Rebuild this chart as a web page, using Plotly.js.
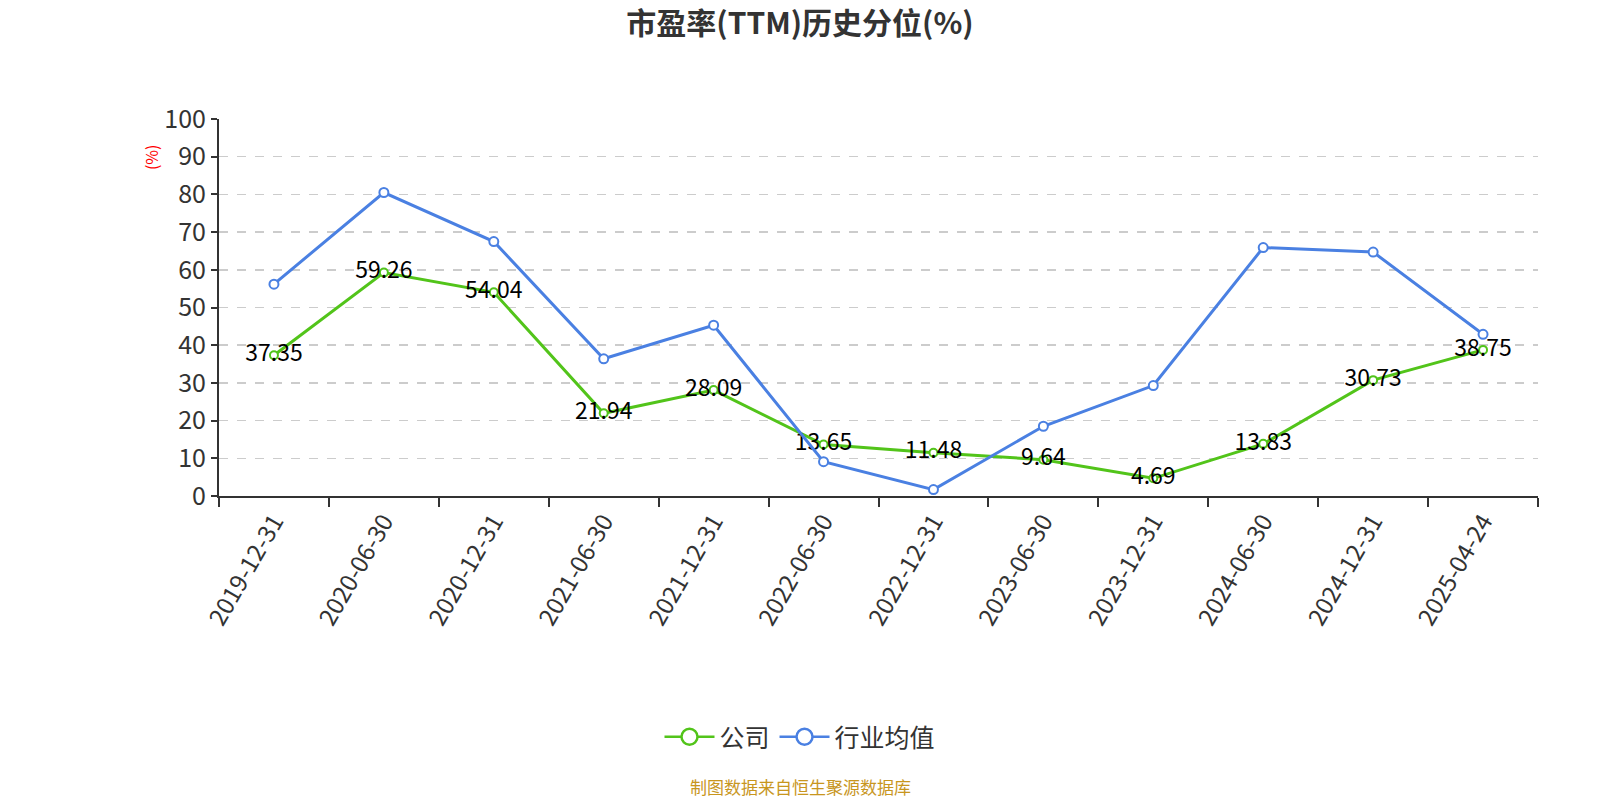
<!DOCTYPE html>
<html>
<head>
<meta charset="utf-8">
<script src="https://cdn.plot.ly/plotly-3.0.1.min.js"></script>
<style>html,body{margin:0;padding:0;background:#fff;}#chart{width:1600px;height:800px;}</style>
</head>
<body>
<div id="chart"></div>
<script>
const categories = ["2019-12-31","2020-06-30","2020-12-31","2021-06-30","2021-12-31","2022-06-30","2022-12-31","2023-06-30","2023-12-31","2024-06-30","2024-12-31","2025-04-24"];
const companyValues = [37.35, 59.26, 54.04, 21.94, 28.09, 13.65, 11.48, 9.64, 4.69, 13.83, 30.73, 38.75];
const industryValues = [56.2, 80.5, 67.5, 36.4, 45.3, 9.1, 1.7, 18.5, 29.3, 65.9, 64.7, 42.9];
const yTicks = [0,10,20,30,40,50,60,70,80,90,100];
const seriesNames = ['公司', '行业均值'];

const FONT = '"Noto Sans CJK SC", "Noto Sans", sans-serif';
const GREEN = '#52c41a';
const BLUE = '#4a80e2';

const traces = [
  {
    name: seriesNames[0], x: categories, y: companyValues, type: 'scatter',
    mode: 'lines+markers+text', showlegend: false,
    text: companyValues.map(v => v.toFixed(2)),
    textposition: 'middle center',
    textfont: {family: FONT, size: 23, color: '#000'},
    line: {color: GREEN, width: 3},
    marker: {symbol: 'circle', size: 8, color: '#fff', line: {color: GREEN, width: 2}},
    cliponaxis: false
  },
  {
    name: seriesNames[1], x: categories, y: industryValues, type: 'scatter',
    mode: 'lines+markers', showlegend: false,
    line: {color: BLUE, width: 3},
    marker: {symbol: 'circle', size: 9, color: '#fff', line: {color: BLUE, width: 2}},
    cliponaxis: false
  },
  // legend-only entries (larger legend symbols)
  {
    name: seriesNames[0], x: [null], y: [null], type: 'scatter', mode: 'lines+markers',
    line: {color: GREEN, width: 2.5},
    marker: {symbol: 'circle', size: 16, color: '#fff', line: {color: GREEN, width: 2.5}}
  },
  {
    name: seriesNames[1], x: [null], y: [null], type: 'scatter', mode: 'lines+markers',
    line: {color: BLUE, width: 2.5},
    marker: {symbol: 'circle', size: 16, color: '#fff', line: {color: BLUE, width: 2.5}}
  }
];

const layout = {
  width: 1600, height: 800,
  paper_bgcolor: '#fff', plot_bgcolor: '#fff',
  margin: {l: 219, r: 62, t: 119, b: 304},
  font: {family: FONT, color: '#333'},
  title: {text: '<b>市盈率(TTM)历史分位(%)</b>', font: {family: FONT, size: 30, color: '#333'},
          x: 0.5, xanchor: 'center', xref: 'container', y: 1 - 23/800, yanchor: 'middle', yref: 'container'},
  xaxis: {
    type: 'category', range: [-0.5, 11.5], tickson: 'boundaries',
    showline: true, linecolor: '#333', linewidth: 2,
    ticks: 'outside', ticklen: 9, tickwidth: 2, tickcolor: '#333',
    tickangle: -60, tickfont: {family: FONT, size: 24, color: '#333'},
    showgrid: false, zeroline: false, fixedrange: true
  },
  yaxis: {
    range: [0, 100], tickvals: yTicks, ticktext: yTicks.map(String),
    showline: true, linecolor: '#333', linewidth: 2,
    ticks: 'outside', ticklen: 6, tickwidth: 2, tickcolor: '#333',
    tickfont: {family: FONT, size: 25, color: '#333'},
    showgrid: true, gridcolor: '#cccccc', gridwidth: 1.5, griddash: 'dash',
    zeroline: false, fixedrange: true
  },
  showlegend: true,
  legend: {
    orientation: 'h', x: 0.5, xanchor: 'center', xref: 'container',
    y: 1 - 737/800, yanchor: 'middle', yref: 'container',
    font: {family: FONT, size: 25, color: '#333'}, itemwidth: 50,
    bgcolor: 'rgba(0,0,0,0)'
  },
  annotations: [
    {text: '(%)', xref: 'paper', yref: 'paper', x: -0.052, y: 0.9, xanchor: 'center', yanchor: 'middle',
     textangle: -90, showarrow: false, font: {family: FONT, size: 16, color: '#ff0000'}},
    {text: '制图数据来自恒生聚源数据库', xref: 'paper', yref: 'paper', x: (800 - 219) / 1319, y: (496 - 786) / 377,
     xanchor: 'center', yanchor: 'middle', showarrow: false, font: {family: FONT, size: 17, color: '#c8961e'}}
  ]
};

Plotly.newPlot('chart', traces, layout, {displayModeBar: false, staticPlot: true});
</script>
</body>
</html>
